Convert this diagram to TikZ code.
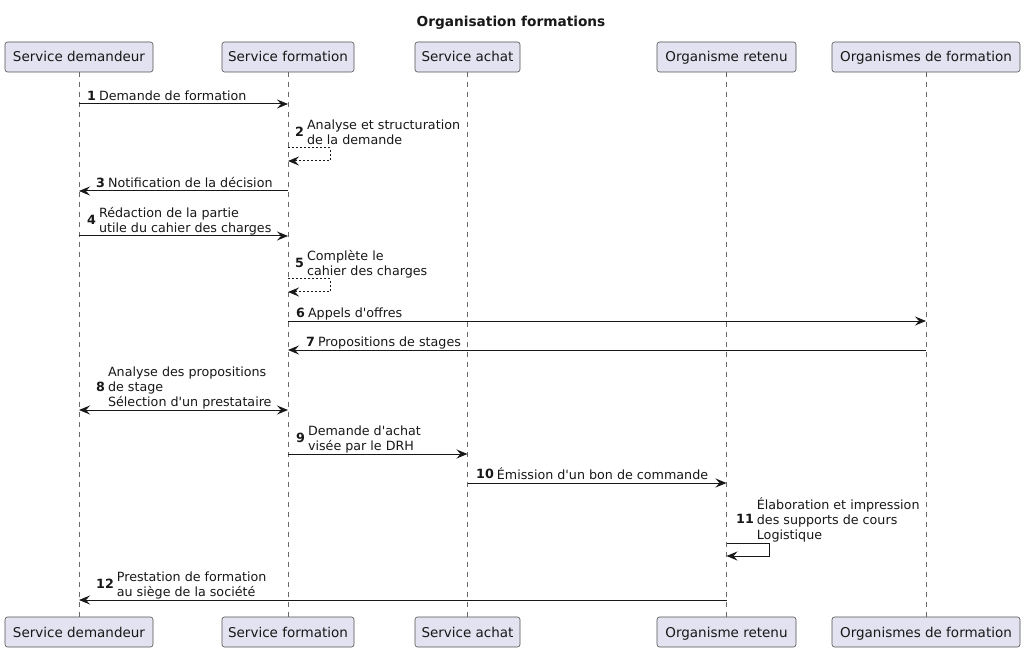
\documentclass[tikz,border=0pt]{standalone}
\usepackage{fontspec}
\setmainfont{DejaVu Sans}[Ligatures=TeXOff]
\usetikzlibrary{arrows.meta}
\definecolor{pfill}{HTML}{E2E2F0}
\definecolor{ink}{HTML}{181818}
\newcommand\mtxt[1]{\begin{tabular}[c]{@{}l@{}}#1\end{tabular}}
\newcommand\mnum[1]{\textbf{#1}\hspace{3pt}}
\begin{document}
\begin{tikzpicture}[x=1pt,y=-1pt,
  >={Stealth[length=11pt,width=9pt,inset=4pt]},
  part/.style={draw=ink!75, line width=0.6pt, fill=pfill, rounded corners=2.5pt,
    minimum height=30pt, inner sep=0pt, text height=10pt, text depth=0pt,
    font=\fontsize{13.5}{16}\selectfont, text=ink},
  life/.style={draw=ink!65, line width=0.5pt, dash pattern=on 5pt off 5pt},
  msg/.style={draw=ink, line width=1pt},
  dmsg/.style={msg, dash pattern=on 2pt off 2pt},
  lbl/.style={inner sep=0pt, anchor=south west, font=\fontsize{12.7}{15}\selectfont, text=ink},
]
\useasboundingbox[fill=white] (0,0) rectangle (1025,652);
\node[font=\bfseries\fontsize{13.7}{16}\selectfont, text=ink] (title) at (511,23) {Organisation formations};
% participants
\node[part, minimum width=148pt] (sdT) at (79,57) {Service demandeur};
\node[part, minimum width=132pt] (sfT) at (288,57) {Service formation};
\node[part, minimum width=105pt] (saT) at (467.5,57) {Service achat};
\node[part, minimum width=139pt] (orT) at (726.5,57) {Organisme retenu};
\node[part, minimum width=188pt] (ofT) at (926,57) {Organismes de formation};
\node[part, minimum width=148pt] (sdB) at (79,632) {Service demandeur};
\node[part, minimum width=132pt] (sfB) at (288,632) {Service formation};
\node[part, minimum width=105pt] (saB) at (467.5,632) {Service achat};
\node[part, minimum width=139pt] (orB) at (726.5,632) {Organisme retenu};
\node[part, minimum width=188pt] (ofB) at (926,632) {Organismes de formation};
% lifelines
\foreach \p in {sd,sf,sa,or,of}{\draw[life] (\p T.south) -- (\p B.north);}
% 1
\draw[msg,->] (sdT |- 0,104) -- (sfT |- 0,104);
\node[lbl] (l1) at (87,105) {\mnum{1}\mtxt{Demande de formation}};
% 2
\draw[dmsg,->] (sfT |- 0,148) -- (330,148) -- (330,161) -- (sfT |- 0,161);
\node[lbl] (l2) at (295,149) {\mnum{2}\mtxt{Analyse et structuration\\de la demande}};
% 3
\draw[msg,->] (sfT |- 0,191) -- (sdT |- 0,191);
\node[lbl] (l3) at (96,192) {\mnum{3}\mtxt{Notification de la décision}};
% 4
\draw[msg,->] (sdT |- 0,236) -- (sfT |- 0,236);
\node[lbl] (l4) at (87,237) {\mnum{4}\mtxt{Rédaction de la partie\\utile du cahier des charges}};
% 5
\draw[dmsg,->] (sfT |- 0,279) -- (330,279) -- (330,292) -- (sfT |- 0,292);
\node[lbl] (l5) at (295,280) {\mnum{5}\mtxt{Complète le\\cahier des charges}};
% 6
\draw[msg,->] (sfT |- 0,321) -- (ofT |- 0,321);
\node[lbl] (l6) at (296,322) {\mnum{6}\mtxt{Appels d'offres}};
% 7
\draw[msg,->] (ofT |- 0,350) -- (sfT |- 0,350);
\node[lbl] (l7) at (306,351) {\mnum{7}\mtxt{Propositions de stages}};
% 8
\draw[msg,<->] (sdT |- 0,410) -- (sfT |- 0,410);
\node[lbl] (l8) at (96,411) {\mnum{8}\mtxt{Analyse des propositions\\de stage\\Sélection d'un prestataire}};
% 9
\draw[msg,->] (sfT |- 0,454) -- (saT |- 0,454);
\node[lbl] (l9) at (296,455) {\mnum{9}\mtxt{Demande d'achat\\visée par le DRH}};
% 10
\draw[msg,->] (saT |- 0,483) -- (orT |- 0,483);
\node[lbl] (l10) at (476,484) {\mnum{10}\mtxt{Émission d'un bon de commande}};
% 11
\draw[msg,->] (orT |- 0,543) -- (769,543) -- (769,556) -- (orT |- 0,556);
\node[lbl] (l11) at (736,544) {\mnum{11}\mtxt{Élaboration et impression\\des supports de cours\\Logistique}};
% 12
\draw[msg,->] (orT |- 0,600) -- (sdT |- 0,600);
\node[lbl] (l12) at (96,601) {\mnum{12}\mtxt{Prestation de formation\\au siège de la société}};
\end{tikzpicture}
\end{document}
